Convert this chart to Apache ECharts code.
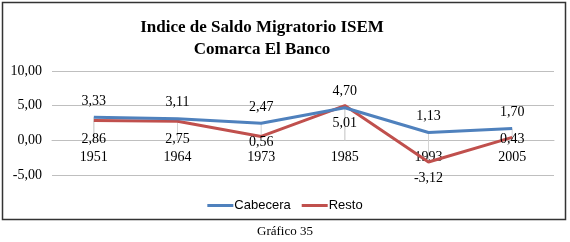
<!DOCTYPE html>
<html>
<head>
<meta charset="utf-8">
<script src="https://cdn.jsdelivr.net/npm/echarts@6/dist/echarts.min.js"></script>
<style>
  html, body { margin: 0; padding: 0; background: #fff; }
  #chart { width: 570px; height: 242px; }
</style>
</head>
<body>
<div id="chart"></div>
<script>
// años del censo
const years = ['1951', '1964', '1973', '1985', '1993', '2005'];
// índice ISEM por zona
const cabecera = [3.33, 3.11, 2.47, 4.70, 1.13, 1.70];
const resto = [2.86, 2.75, 0.56, 5.01, -3.12, 0.43];
const yTicks = [-5, 0, 5, 10];

// separación de las etiquetas de Resto (px), como quedaron en el original
const restoLabelGap = [12, 11, -1, 11, 9, -5];

const fmt = v => v.toFixed(2).replace('.', ',');
const serif = '"Liberation Serif", "Times New Roman", serif';

const chart = echarts.init(document.getElementById('chart'));

const gridH = 104;
// el eje de categorías cruza en 0: subirlo desde el fondo
const zeroOffset = -gridH * (0 - yTicks[0]) / (yTicks[yTicks.length - 1] - yTicks[0]);

// líneas de caída (gris) hacia el eje
const dropSeries = [cabecera, resto].map(d => ({
    type: 'bar',
    data: d,
    barWidth: 1,
    barGap: '-100%',
    itemStyle: { color: '#d4d4d4' },
    silent: true,
    z: 1
}));

const option = {
    animation: false,
    title: {
        text: 'Indice de Saldo Migratorio ISEM\nComarca El Banco',
        left: 257,
        textAlign: 'center',
        top: 12,
        textStyle: {
            fontFamily: serif,
            fontSize: 17,
            fontWeight: 'bold',
            color: '#000',
            lineHeight: 22
        }
    },
    legend: {
        data: ['Cabecera', 'Resto'],
        left: 'center',
        top: 194,
        itemWidth: 26,
        itemHeight: 3,
        itemGap: 11,
        icon: 'rect',
        textStyle: { fontFamily: '"Liberation Sans", Arial, sans-serif', fontSize: 13, color: '#000', padding: [0, 0, 0, -4] }
    },
    grid: { left: 52, right: 16, top: 71, height: gridH },
    xAxis: {
        type: 'category',
        data: years,
        offset: zeroOffset,
        axisLine: { onZero: false, lineStyle: { color: '#bfbfbf' } },
        axisTick: { show: false },
        axisLabel: { fontFamily: serif, fontSize: 14, color: '#000', margin: 10 }
    },
    yAxis: {
        type: 'value',
        min: yTicks[0],
        max: yTicks[yTicks.length - 1],
        interval: 5,
        axisLine: { show: false },
        axisTick: { show: false },
        splitLine: { lineStyle: { color: '#bfbfbf', width: 1 } },
        axisLabel: { fontFamily: serif, fontSize: 14, color: '#000', margin: 10, formatter: v => fmt(v) }
    },
    graphic: [
        {
            type: 'rect',
            shape: { x: 2.5, y: 2.5, width: 563, height: 217 },
            style: { fill: 'none', stroke: '#333', lineWidth: 1.5 },
            z: 0
        },
        {
            type: 'text',
            left: 'center',
            top: 225,
            style: { text: 'Gráfico 35', font: '13px ' + serif, fill: '#000' }
        }
    ],
    series: [
        ...dropSeries,
        {
            name: 'Cabecera',
            type: 'line',
            data: cabecera,
            symbol: 'circle',
            symbolSize: 0,
            showSymbol: true,
            lineStyle: { color: '#4f81bd', width: 3 },
            itemStyle: { color: '#4f81bd' },
            label: {
                show: true, position: 'top', distance: 9,
                fontFamily: serif, fontSize: 14, color: '#000',
                formatter: p => fmt(p.value)
            },
            z: 3
        },
        {
            name: 'Resto',
            type: 'line',
            data: resto.map((v, i) => ({ value: v, label: { distance: restoLabelGap[i] } })),
            symbol: 'circle',
            symbolSize: 0,
            showSymbol: true,
            lineStyle: { color: '#c0504d', width: 3 },
            itemStyle: { color: '#c0504d' },
            label: {
                show: true, position: 'bottom', distance: 11,
                fontFamily: serif, fontSize: 14, color: '#000',
                formatter: p => fmt(p.value)
            },
            z: 2
        }
    ]
};

chart.setOption(option);
</script>
</body>
</html>
